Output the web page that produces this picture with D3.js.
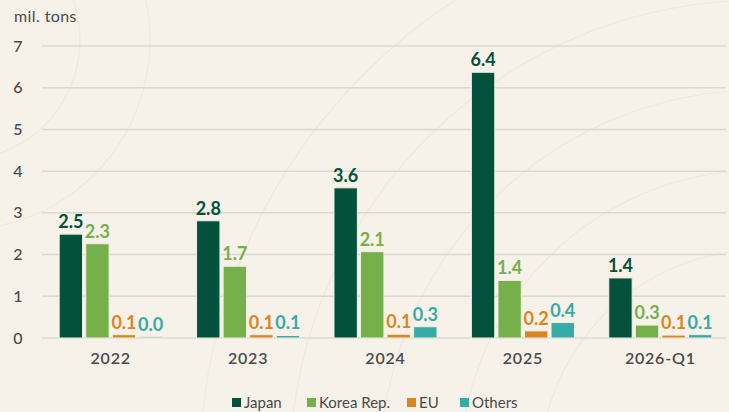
<!DOCTYPE html>
<html>
<head>
<meta charset="utf-8">
<script src="https://cdn.jsdelivr.net/npm/d3@7"></script>
<style>
	body { margin: 0; background: #f6f1e9; }
	svg { display: block; font-family: "Lato", "Open Sans", sans-serif; }
</style>
</head>
<body>
<div id="chart"></div>
<script>
// dados
var categories = ["2022", "2023", "2024", "2025", "2026-Q1"];
var seriesNames = ["Japan", "Korea Rep.", "EU", "Others"];
var japan = [2.49, 2.81, 3.6, 6.37, 1.44];
var korea = [2.26, 1.72, 2.07, 1.38, 0.31];
var eu = [0.08, 0.08, 0.09, 0.17, 0.07];
var others = [0.03, 0.06, 0.27, 0.37, 0.08];
var yTicks = [0, 1, 2, 3, 4, 5, 6, 7];
var colors = ["#02523b", "#76b04a", "#d9861e", "#37aba6"];

var width = 729, height = 412;
var margin = {top: 46, right: 0, bottom: 74, left: 42};

var svg = d3.select("#chart").append("svg")
	.attr("width", width)
	.attr("height", height);

// fundo com textura de madeira
svg.append("rect").attr("width", width).attr("height", height).attr("fill", "#f6f1e9");
var rings = svg.append("g").attr("fill", "none").attr("stroke", "#ebe4d8").attr("stroke-width", 1.2).attr("opacity", 0.6);
[220, 300, 380, 470, 560].forEach(function(r) {
	rings.append("circle").attr("cx", 760).attr("cy", 470).attr("r", r);
});
[120, 190].forEach(function(r) {
	rings.append("circle").attr("cx", -40).attr("cy", 40).attr("r", r);
});

var x0 = d3.scaleBand()
	.domain(categories)
	.range([margin.left, width - margin.right])
	.paddingInner(0.25)
	.paddingOuter(0.125);

var x1 = d3.scaleBand()
	.domain(seriesNames)
	.range([0, x0.bandwidth()])
	.paddingInner(0.12);

var y = d3.scaleLinear()
	.domain([0, 7])
	.range([338, margin.top]);

// grade
svg.append("g")
	.selectAll("line")
	.data(yTicks)
	.enter()
	.append("line")
		.attr("x1", margin.left)
		.attr("x2", width - 3)
		.attr("y1", function(d) { return y(d); })
		.attr("y2", function(d) { return y(d); })
		.attr("stroke", "#dcd9d3")
		.attr("stroke-width", 1.5);

// eixo y
svg.append("g")
	.selectAll("text")
	.data(yTicks)
	.enter()
	.append("text")
		.attr("x", 18)
		.attr("y", function(d) { return y(d); })
		.attr("dy", "0.35em")
		.attr("text-anchor", "middle")
		.attr("fill", "#4a4a4a")
		.style("font-size", "16px")
		.style("font-weight", 500)
		.text(function(d) { return d; });

svg.append("text")
	.attr("x", 14)
	.attr("y", 22)
	.attr("fill", "#4a4a4a")
	.style("font-size", "16px")
	.style("letter-spacing", "0.4px")
	.text("mil. tons");

// eixo x
svg.append("g")
	.selectAll("text")
	.data(categories)
	.enter()
	.append("text")
		.attr("x", function(d) { return x0(d) + x0.bandwidth() / 2; })
		.attr("y", 364)
		.attr("text-anchor", "middle")
		.attr("fill", "#4a4a4a")
		.style("font-size", "16px")
		.style("font-weight", 600)
		.style("letter-spacing", "0.8px")
		.text(function(d) { return d; });

var series = [japan, korea, eu, others];
var rows = [];
categories.forEach(function(c, i) {
	seriesNames.forEach(function(s, j) {
		rows.push({cat: c, name: s, value: series[j][i], color: colors[j]});
	});
});

var bars = svg.append("g");
bars.selectAll("rect")
	.data(rows)
	.enter()
	.append("rect")
		.attr("x", function(d) { return x0(d.cat) + x1(d.name); })
		.attr("y", function(d) { return y(d.value); })
		.attr("width", x1.bandwidth())
		.attr("height", function(d) { return y(0) - y(d.value); })
		.attr("fill", function(d) { return d.color; })
		.attr("stroke", "#f2eee6")
		.attr("stroke-width", 1);

bars.selectAll("text")
	.data(rows)
	.enter()
	.append("text")
		.attr("x", function(d) { return x0(d.cat) + x1(d.name) + x1.bandwidth() / 2; })
		.attr("y", function(d) { return y(d.value) - 6; })
		.attr("text-anchor", "middle")
		.attr("fill", function(d) { return d.color; })
		.style("font-size", "18px")
		.style("font-weight", 700)
		.text(function(d) { return d.value.toFixed(1); });

// legenda
var legendX = [232, 307, 407, 460];
var legend = svg.append("g")
	.selectAll("g")
	.data(seriesNames)
	.enter()
	.append("g")
		.attr("transform", function(d, i) { return "translate(" + legendX[i] + ",398)"; });
legend.append("rect")
	.attr("width", 9)
	.attr("height", 9)
	.attr("fill", function(d, i) { return colors[i]; });
legend.append("text")
	.attr("x", 12)
	.attr("y", 5)
	.attr("dy", "0.35em")
	.attr("fill", "#4a4a4a")
	.style("font-size", "15px")
	.text(function(d) { return d; });
</script>
</body>
</html>
